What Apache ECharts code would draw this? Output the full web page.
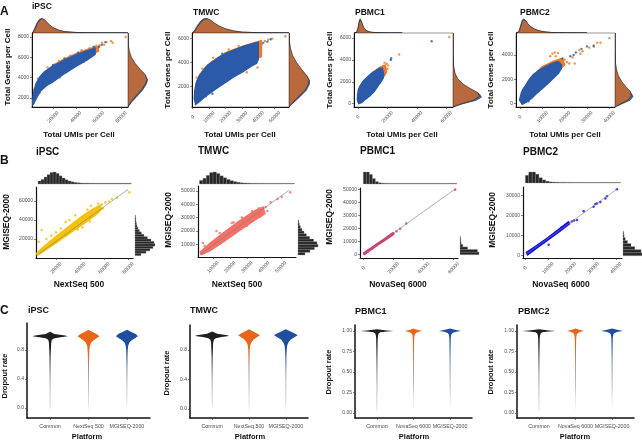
<!DOCTYPE html>
<html><head><meta charset="utf-8">
<script src="https://cdn.jsdelivr.net/npm/echarts@6/dist/echarts.min.js"></script>
<style>html,body{margin:0;padding:0;background:#fff}#c{width:642px;height:442px}</style>
</head><body><div id="c"></div>
<script>
// ---------------- DATA ----------------
// Row A : Total UMIs vs Total Genes per cell (orange = NextSeq/NovaSeq, blue = MGISEQ)
const a1BlueUpper=[[1800,1600],[2500,2300],[3500,2900],[5000,3450],[8000,4050],[12000,4550],[20000,5150],[30000,5750],[40000,6250],[50000,6650],[57000,6900]];
const a1BlueLower=[[2200,1350],[4000,1700],[6000,2150],[9000,2700],[14000,3200],[20000,3600],[30000,4400],[40000,5100],[50000,5750],[57000,6300]];
const a1OrangeUpper=[[3000,2600],[10000,4200],[20000,5250],[30000,5850],[40000,6380],[50000,6800],[60000,7100]];
const a1OrangeLower=[[3000,2000],[20000,4000],[40000,5400],[60000,6600]];
const a1OrangePts=[[3200,2800],[6500,3900],[15000,5000],[25000,5650],[35000,6150],[45000,6700],[52000,6900],[55000,7000],[58000,7150],[61000,7200],[63000,7450],[65000,7250],[67000,7500],[71000,7600],[72500,7450],[84000,8000],[26000,4000],[47000,5550],[2600,1500],[8000,2500]];
const a1BluePts=[[56000,7050],[60500,7050],[63000,7250],[66000,7500],[42000,6450],[30000,5900],[20000,5250],[12000,3100]];
const a1TopOrange=[[1300,0],[2500,0.08],[4000,0.3],[6000,0.65],[8000,0.9],[10000,1.0],[12000,0.95],[14000,0.8],[17000,0.55],[20000,0.38],[25000,0.2],[30000,0.1],[40000,0.04],[50000,0.015],[60000,0.006],[86000,0]];
const a1TopBlue=[[1300,0],[2500,0.12],[4000,0.4],[6000,0.75],[8000,0.97],[10000,1.02],[12000,0.93],[14000,0.76],[17000,0.52],[20000,0.35],[25000,0.18],[30000,0.09],[40000,0.035],[50000,0.012],[60000,0.004],[86000,0]];
const a1RightOrange=[[1100,0],[1600,0.15],[2200,0.42],[2800,0.7],[3400,0.92],[3800,1.0],[4300,0.9],[4800,0.65],[5400,0.38],[6000,0.18],[6600,0.07],[7200,0.02],[8400,0]];
const a1RightBlue=[[1100,0],[1600,0.2],[2200,0.5],[2800,0.78],[3400,0.97],[3800,1.03],[4300,0.88],[4800,0.6],[5400,0.33],[6000,0.14],[6600,0.05],[7200,0.015],[8400,0]];

const a2BlueUpper=[[1000,1000],[1300,1600],[2200,2300],[4000,2900],[6300,3300],[9000,3750],[12400,4100],[16000,4450],[20500,4800],[25000,5050],[30700,5350],[36000,5550],[40000,5700]];
const a2BlueLower=[[1800,500],[4000,750],[7000,1100],[10400,1450],[15000,1900],[20500,2400],[25000,2800],[30700,3250],[35000,3650],[39000,3950],[40000,4300]];
const a2OrangeUpper=[[1200,1700],[2500,2450],[4500,3050],[7000,3500],[10000,3900],[14000,4300],[20000,4850],[26000,5150],[32000,5450],[38000,5700],[42000,5850]];
const a2OrangeLower=[[2500,1500],[10000,2200],[20000,3200],[30000,3900],[42000,4500]];
const a2OrangePts=[[44000,5800],[46000,5900],[48500,6000],[56500,6200],[40500,5350],[39500,3600],[36000,4600],[33000,3200],[22000,5100],[12500,4400],[6000,3500],[2500,2750],[28000,5400],[42000,5500],[9000,1350],[3000,700]];
const a2BluePts=[[45500,5750],[47500,5950],[43000,5650],[12000,1400],[38000,4000],[18000,4750],[8000,1200]];
const a2TopOrange=[[-400,0],[1000,0.1],[3000,0.45],[5000,0.75],[7000,0.95],[9000,1.0],[11000,0.9],[13000,0.72],[16000,0.5],[20000,0.3],[25000,0.15],[30000,0.07],[40000,0.02],[58700,0]];
const a2TopBlue=[[-400,0],[1000,0.15],[3000,0.55],[5000,0.85],[7000,1.02],[9000,1.0],[11000,0.86],[13000,0.68],[16000,0.46],[20000,0.27],[25000,0.13],[30000,0.06],[40000,0.015],[58700,0]];
const a2RightOrange=[[300,0],[700,0.2],[1200,0.5],[1700,0.8],[2200,0.97],[2500,1.0],[2900,0.9],[3400,0.65],[4000,0.38],[4600,0.18],[5200,0.07],[5800,0.02],[6470,0]];
const a2RightBlue=[[300,0],[700,0.25],[1200,0.58],[1700,0.87],[2200,1.02],[2500,1.03],[2900,0.88],[3400,0.6],[4000,0.33],[4600,0.14],[5200,0.05],[5800,0.015],[6470,0]];

const a3BlueUpper=[[-400,300],[-300,800],[300,1300],[1500,1650],[3500,2050],[6000,2400],[9000,2750],[12000,3000],[15000,3200],[16500,3250]];
const a3BlueLower=[[500,0],[2500,100],[5000,400],[8000,700],[11000,1100],[13500,1600],[15500,2000],[17000,2300],[17500,2700]];
const a3OrangeUpper=[[0,900],[5000,2100],[10000,2900],[15000,3300],[18500,3550]];
const a3OrangeLower=[[2000,600],[10000,1300],[16000,2100],[19500,2900]];
const a3OrangePts=[[17000,3450],[18000,3750],[19500,3650],[20500,3500],[28000,4500],[62000,6100],[18500,2800],[16500,2450],[15500,3350],[20000,3200]];
const a3BluePts=[[22500,4150],[22300,4000],[50000,5700],[14500,3250],[16000,2700],[13000,3100]];
const a3TopBlue=[[-2700,0],[-1000,0.05],[0,0.35],[800,0.85],[1500,1.0],[2200,0.85],[3000,0.55],[4000,0.32],[5500,0.17],[7500,0.08],[10000,0.04],[14000,0.015],[20000,0.004],[30000,0]];
const a3TopOrange=[[-2700,0],[-1000,0.04],[0,0.28],[800,0.75],[1600,0.93],[2400,0.82],[3200,0.56],[4200,0.34],[5500,0.19],[7500,0.09],[10000,0.045],[14000,0.018],[20000,0.005],[30000,0]];
const a3RightBlue=[[-300,0],[0,0.35],[300,0.8],[600,1.0],[900,0.92],[1300,0.62],[1700,0.35],[2200,0.15],[2700,0.06],[3300,0.02],[4500,0.004],[6460,0]];
const a3RightOrange=[[-300,0],[0,0.3],[300,0.7],[650,0.92],[1000,0.88],[1400,0.6],[1800,0.35],[2300,0.16],[2800,0.07],[3400,0.025],[4500,0.006],[6460,0]];

const a4BlueUpper=[[-200,300],[300,700],[1200,1150],[2300,1450],[4000,1950],[6000,2400],[9000,2800],[12000,3100],[15000,3350],[17000,3450]];
const a4BlueLower=[[1000,-50],[3000,150],[5500,500],[7500,850],[10000,1250],[12700,1700],[15000,2100],[17200,2500],[18500,2900],[18500,3200]];
const a4OrangeUpper=[[500,900],[5000,2200],[10000,3050],[15000,3500],[19000,3750]];
const a4OrangeLower=[[3000,700],[10000,1600],[17000,2600],[20000,3200]];
const a4OrangePts=[[13500,3900],[14500,4100],[15500,4200],[17000,4150],[20000,3600],[21000,3400],[22000,3300],[24500,3300],[31000,4600],[33000,4800],[34500,5000],[36000,5000],[40000,5400],[26500,4400],[28000,4300],[3000,300],[27000,4100],[23500,3800],[16000,3900],[18500,3550]];
const a4BluePts=[[27500,4500],[30000,4700],[33000,4700],[25000,4200],[22500,3900],[3800,200],[19000,3700],[24000,4000]];
const a4TopBlue=[[-1800,0],[-500,0.1],[300,0.55],[1000,0.9],[1600,1.0],[2400,0.88],[3300,0.66],[4500,0.45],[6000,0.3],[8000,0.17],[10500,0.08],[14000,0.03],[20000,0.008],[30000,0]];
const a4TopOrange=[[-1800,0],[-500,0.08],[300,0.45],[1000,0.8],[1700,0.92],[2600,0.85],[3500,0.66],[4700,0.46],[6200,0.31],[8200,0.18],[10800,0.09],[14500,0.035],[20000,0.01],[30000,0]];
const a4RightBlue=[[-270,0],[0,0.4],[300,0.85],[600,1.0],[900,0.88],[1300,0.6],[1700,0.36],[2200,0.17],[2700,0.07],[3300,0.02],[4500,0.004],[5800,0]];
const a4RightOrange=[[-270,0],[0,0.32],[300,0.72],[650,0.9],[1000,0.85],[1400,0.6],[1800,0.38],[2300,0.19],[2800,0.08],[3400,0.025],[4500,0.005],[5800,0]];

const aXTicks1=[20000,40000,60000,80000], aYTicks1=[2000,4000,6000,8000];
const aXTicks2=[0,10000,20000,30000,40000,50000], aYTicks2=[2000,4000,6000];
const aXTicks3=[0,20000,40000,60000], aYTicks3=[0,2000,4000,6000];
const aXTicks4=[0,10000,20000,30000,40000], aYTicks4=[0,2000,4000];

// Row B : per-cell UMIs, platform vs MGISEQ-2000
const b1Upper=[[4000,5000],[8000,9800],[15000,17500],[25000,27500],[35000,37500],[45000,47000],[52000,52500],[57000,55500]];
const b1Lower=[[4500,3000],[10000,7500],[20000,16000],[30000,25000],[40000,33500],[50000,42500],[55000,47500],[57500,51000]];
const b1Pts=[[8000,29500],[5500,17000],[12000,20000],[28000,38000],[31000,40000],[36000,45000],[46000,51000],[49000,55000],[55000,57000],[58000,56500],[61000,58500],[64000,59500],[66500,62000],[70500,63500],[81000,69000],[48000,38500],[42000,32000],[59000,52000],[20000,27000],[16000,23500],[38000,30000],[24000,31000]];
const b1Line=[[5400,4200],[80000,72300]];
const b1TopBins=[[5000,0.25],[7500,0.38],[10000,0.58],[12500,0.78],[15000,0.96],[17500,1.0],[20000,0.88],[22500,0.68],[25000,0.5],[27500,0.35],[30000,0.25],[32500,0.18],[35000,0.13],[37500,0.1],[40000,0.08],[42500,0.07],[45000,0.07],[47500,0.065],[50000,0.065],[52500,0.06],[55000,0.06],[57500,0.06],[60000,0.06],[62500,0.06],[65000,0.06],[67500,0.06],[70000,0.06],[72500,0.06],[75000,0.06],[77500,0.06],[80000,0.06]];
const b1RightBins=[[2500,0.3],[5000,0.55],[7500,0.75],[10000,0.9],[12500,1.0],[15000,0.95],[17500,0.8],[20000,0.62],[22500,0.45],[25000,0.32],[27500,0.22],[30000,0.15],[32500,0.1],[35000,0.07],[37500,0.05],[40000,0.04],[42500,0.03]];

const b2Upper=[[2500,4200],[8000,10500],[15000,17500],[25000,27000],[35000,35500],[39500,38000]];
const b2Lower=[[3000,2200],[8000,5200],[15000,11000],[25000,20000],[35000,28500],[40500,33000]];
const b2Pts=[[4000,11000],[5000,8800],[14000,18500],[12000,20000],[22000,26500],[27000,30000],[37000,37000],[41000,38000],[44000,41500],[48000,44000],[50500,45500],[55500,49000],[38000,31000],[30000,24000],[21000,26000],[33000,35000],[42000,35000]];
const b2Line=[[3100,3000],[54700,50500]];
const b2TopBins=[[2000,0.3],[4000,0.48],[6000,0.72],[8000,0.95],[10000,1.0],[12000,0.88],[14000,0.68],[16000,0.52],[18000,0.38],[20000,0.28],[22000,0.2],[24000,0.14],[26000,0.1],[28000,0.08],[30000,0.07],[32000,0.06],[34000,0.06],[36000,0.055],[38000,0.055],[40000,0.05],[42000,0.05],[44000,0.05],[46000,0.05],[48000,0.05],[50000,0.05],[52000,0.05],[54000,0.05],[56000,0.05]];
const b2RightBins=[[2000,0.35],[4000,0.6],[6000,0.82],[8000,1.0],[10000,0.95],[12000,0.78],[14000,0.58],[16000,0.42],[18000,0.3],[20000,0.2],[22000,0.12],[24000,0.07],[26000,0.04]];

const b3Upper=[[300,1300],[5000,5000],[10000,9000],[15000,13000],[19500,16700]];
const b3Lower=[[800,300],[5000,3800],[10000,7700],[15000,11700],[20000,15600]];
const b3Pts=[[1000,900],[3000,2700],[6000,5000],[9000,7500],[12000,10000],[14500,12000],[17000,14200],[19000,15800],[20000,16300],[24500,20000],[28500,24000],[61000,50000],[18000,15000],[16000,13500],[22000,18000]];
const b3Line=[[0,0],[60700,50250]];
const b3TopBins=[[0,1.0],[2000,1.0],[4000,0.8],[6000,0.45],[8000,0.2],[10000,0.1],[12000,0.07],[14000,0.06],[16000,0.055],[18000,0.05],[20000,0.05],[22000,0.05],[24000,0.05],[26000,0.05],[28000,0.05],[30000,0.05],[32000,0.05],[34000,0.05],[36000,0.05],[38000,0.05],[40000,0.05],[42000,0.05],[44000,0.05],[46000,0.05],[48000,0.05],[50000,0.05],[52000,0.05],[54000,0.05],[56000,0.05],[58000,0.05],[60000,0.05]];
const b3RightBins=[[0,1.0],[2000,0.92],[4000,0.4],[6000,0.15],[8000,0.06],[10000,0.04],[12000,0.03]];

const b4Upper=[[500,1600],[5000,5000],[10000,9000],[15000,13300],[19000,16800]];
const b4Lower=[[1000,500],[5000,3800],[10000,7900],[15000,12000],[19500,15800]];
const b4Pts=[[10300,5400],[22800,17700],[25700,22100],[30100,24300],[30900,25600],[31600,25900],[33100,26600],[35300,28400],[36000,29500],[40400,33000],[20500,17000],[21500,17500],[18000,15500],[16000,14000],[12000,10000],[8000,6500],[3000,2500]];
const b4Line=[[0,490],[40700,33280]];
const b4TopBins=[[0,0.7],[1500,1.0],[3000,1.0],[4500,0.8],[6000,0.48],[7500,0.28],[9000,0.16],[10500,0.1],[12000,0.08],[13500,0.07],[15000,0.06],[16500,0.06],[18000,0.055],[19500,0.055],[21000,0.05],[22500,0.05],[24000,0.05],[25500,0.05],[27000,0.05],[28500,0.05],[30000,0.05],[31500,0.05],[33000,0.05],[34500,0.05],[36000,0.05],[37500,0.05],[39000,0.05],[40500,0.05]];
const b4RightBins=[[0,1.0],[1500,0.95],[3000,0.62],[4500,0.42],[6000,0.24],[7500,0.12],[9000,0.06],[10500,0.04]];

const bXTicks1=[20000,40000,60000,80000], bYTicks1=[20000,40000,60000];
const bXTicks2=[10000,20000,30000,40000,50000], bYTicks2=[10000,20000,30000,40000,50000];
const bXTicks3=[0,20000,40000,60000], bYTicks3=[0,10000,20000,30000,40000,50000];
const bXTicks4=[0,10000,20000,30000,40000], bYTicks4=[0,10000,20000,30000];

// Row C : dropout rate violins ([dropout, relative half width])
const cCats1=['Common','NextSeq 500','MGISEQ-2000'];
const cCats2=['Common','NovaSeq 6000','MGISEQ-2000'];
const c1Common=[[1.05,0],[1.02,0.25],[1.0,0.85],[0.99,1.0],[0.975,0.6],[0.96,0.25],[0.94,0.1],[0.9,0.065],[0.8,0.045],[0.7,0.035],[0.5,0.03],[0.3,0.025],[0.1,0.022],[0.02,0.025],[-0.03,0]];
const c1Plat=[[1.08,0],[1.05,0.2],[1.02,0.45],[0.99,0.62],[0.96,0.45],[0.93,0.28],[0.9,0.15],[0.86,0.08],[0.8,0.05],[0.7,0.035],[0.5,0.025],[0.3,0.02],[0.1,0.018],[-0.07,0]];
const c1Mgi=[[1.08,0],[1.05,0.22],[1.02,0.5],[0.99,0.62],[0.96,0.45],[0.93,0.25],[0.9,0.13],[0.86,0.07],[0.8,0.045],[0.7,0.035],[0.5,0.025],[0.3,0.02],[0.1,0.018],[-0.05,0]];
const c2Common=[[1.05,0],[1.02,0.3],[1.0,0.9],[0.99,1.0],[0.975,0.55],[0.96,0.22],[0.94,0.1],[0.9,0.06],[0.8,0.045],[0.7,0.035],[0.5,0.03],[0.3,0.025],[0.1,0.022],[-0.02,0]];
const c2Plat=[[1.08,0],[1.05,0.25],[1.02,0.5],[1.0,0.64],[0.97,0.45],[0.94,0.26],[0.9,0.13],[0.86,0.07],[0.8,0.045],[0.7,0.035],[0.5,0.025],[0.3,0.02],[0.1,0.018],[-0.06,0]];
const c2Mgi=[[1.08,0],[1.05,0.28],[1.02,0.55],[1.0,0.7],[0.97,0.48],[0.94,0.27],[0.9,0.14],[0.86,0.08],[0.8,0.05],[0.7,0.035],[0.5,0.025],[0.3,0.02],[0.1,0.018],[-0.06,0]];
const c3Common=[[1.02,0],[1.005,0.6],[1.0,1.0],[0.995,0.6],[0.985,0.2],[0.97,0.1],[0.94,0.06],[0.9,0.045],[0.8,0.035],[0.6,0.03],[0.3,0.025],[0.05,0.022],[0.0,0]];
const c3Plat=[[1.03,0],[1.015,0.2],[1.0,0.52],[0.99,0.3],[0.975,0.15],[0.96,0.08],[0.93,0.05],[0.9,0.04],[0.8,0.03],[0.6,0.025],[0.3,0.02],[0.0,0]];
const c3Mgi=[[1.03,0],[1.015,0.3],[1.0,0.66],[0.99,0.35],[0.975,0.15],[0.96,0.08],[0.93,0.05],[0.9,0.04],[0.8,0.03],[0.6,0.025],[0.3,0.02],[-0.005,0]];
const c4Common=[[1.02,0],[1.005,0.6],[1.0,1.0],[0.995,0.6],[0.985,0.2],[0.97,0.1],[0.94,0.06],[0.9,0.045],[0.8,0.035],[0.6,0.03],[0.3,0.025],[0.05,0.022],[0.0,0]];
const c4Plat=[[1.03,0],[1.015,0.22],[1.0,0.52],[0.99,0.3],[0.975,0.15],[0.96,0.08],[0.93,0.05],[0.9,0.04],[0.8,0.03],[0.6,0.025],[0.3,0.02],[0.0,0]];
const c4Mgi=[[1.03,0],[1.015,0.3],[1.0,0.66],[0.99,0.35],[0.975,0.15],[0.96,0.08],[0.93,0.05],[0.9,0.04],[0.8,0.03],[0.6,0.025],[0.3,0.02],[-0.005,0]];
const cYTicks1=[0,0.4,0.8], cYTicks2=[0,0.25,0.5,0.75,1];

// ---------------- BUILD ----------------
const FF='"Liberation Sans", Arial, Helvetica, sans-serif';
const ORANGE='#EC7A26', BLUE='#2B5AA8', DENS_O='#B8693D', DENS_B='#4A6DB0';
const grids=[], xAxes=[], yAxes=[], series=[], graphics=[];
const lab={fontSize:5,color:'#4d4d4d',fontFamily:FF};

function addGrid(r, show){grids.push({left:r[0],top:r[1],width:r[2],height:r[3],show:!!show,borderColor:'#555',borderWidth:0.6,containLabel:false});return grids.length-1;}
function hidden(gi,min,max){return {type:'value',gridIndex:gi,min,max,show:false,splitLine:{show:false}};}
function visAxis(gi,min,max,ticks,isX,opt){
  opt=opt||{};
  return {type:'value',gridIndex:gi,min,max,splitLine:{show:false},
    axisLine:{show:true,onZero:false,lineStyle:{color:'#111',width:opt.lw||1}},
    axisTick:{show:true,customValues:ticks,length:2,lineStyle:{color:'#333',width:0.6}},
    axisLabel:Object.assign({customValues:ticks,margin:isX?(opt.rot?10:6):3,formatter:opt.fmt||(v=>String(v))},lab,
      isX&&opt.rot?{rotate:opt.rot,align:'center',verticalAlign:'middle'}:{},opt.labStyle||{})};
}
function polySeries(gi,pts,style,z){
  return {type:'custom',coordinateSystem:'cartesian2d',xAxisIndex:gi,yAxisIndex:gi,silent:true,clip:true,z:z||2,
    data:pts,encode:{x:0,y:1},
    renderItem:(p,api)=>p.dataIndex!==0?null:{type:'polygon',shape:{points:pts.map(q=>api.coord(q))},style}};
}
function band(upper,lower){return upper.concat(lower.slice().reverse());}
function scatter(gi,data,color,size,z){return {type:'scatter',xAxisIndex:gi,yAxisIndex:gi,data,symbolSize:size||2.4,itemStyle:{color},silent:true,z:z||3};}
function histSeries(gi,bins,bw,vertical){
  return {type:'custom',coordinateSystem:'cartesian2d',xAxisIndex:gi,yAxisIndex:gi,silent:true,
    data:bins,encode:vertical?{x:1,y:0}:{x:0,y:1},
    renderItem:(p,api)=>{const s=api.value(0),h=api.value(1);
      let p0,p1;
      if(!vertical){p0=api.coord([s,0]);p1=api.coord([s+bw,h]);}
      else{p0=api.coord([0,s]);p1=api.coord([h,s+bw]);}
      const x=Math.min(p0[0],p1[0]),y=Math.min(p0[1],p1[1]);
      return {type:'rect',shape:{x,y,width:Math.abs(p1[0]-p0[0]),height:Math.abs(p1[1]-p0[1])},style:{fill:'#262626',stroke:'#8a8a8a',lineWidth:0.35}};}};
}
function text(t,x,y,size,opt){opt=opt||{};
  graphics.push({type:'text',x,y,rotation:opt.rot||0,silent:true,z:100,
    style:{text:t,fontSize:size,fontWeight:opt.normal?'normal':'bold',fontFamily:FF,fill:'#111',align:opt.align||'left',verticalAlign:'middle'}});}

// Row A panels
const rowA=[
 {main:[32,33,96,74],top:[32,18,96,15],right:[128,33,20,74],xr:[1300,86000],yr:[1100,8400],xt:aXTicks1,yt:aYTicks1,
  bu:a1BlueUpper,bl:a1BlueLower,ou:a1OrangeUpper,ol:a1OrangeLower,op:a1OrangePts,bp:a1BluePts,to:a1TopOrange,tb:a1TopBlue,ro:a1RightOrange,rb:a1RightBlue},
 {main:[192,33,97,74],top:[192,18,97,15],right:[289,33,21,74],xr:[-400,58700],yr:[300,6470],xt:aXTicks2,yt:aYTicks2,
  bu:a2BlueUpper,bl:a2BlueLower,ou:a2OrangeUpper,ol:a2OrangeLower,op:a2OrangePts,bp:a2BluePts,to:a2TopOrange,tb:a2TopBlue,ro:a2RightOrange,rb:a2RightBlue},
 {main:[354,33,99,74],top:[354,18,99,15],right:[453,33,30,74],xr:[-2700,64500],yr:[-300,6460],xt:aXTicks3,yt:aYTicks3,
  bu:a3BlueUpper,bl:a3BlueLower,ou:a3OrangeUpper,ol:a3OrangeLower,op:a3OrangePts,bp:a3BluePts,to:a3TopOrange,tb:a3TopBlue,ro:a3RightOrange,rb:a3RightBlue},
 {main:[516,33,99,74],top:[516,18,99,15],right:[615,33,19,74],xr:[-1800,42500],yr:[-270,5800],xt:aXTicks4,yt:aYTicks4,
  bu:a4BlueUpper,bl:a4BlueLower,ou:a4OrangeUpper,ol:a4OrangeLower,op:a4OrangePts,bp:a4BluePts,to:a4TopOrange,tb:a4TopBlue,ro:a4RightOrange,rb:a4RightBlue}
];
rowA.forEach(P=>{
  const g=addGrid(P.main,true);
  xAxes.push(visAxis(g,P.xr[0],P.xr[1],P.xt,true,{rot:45}));
  yAxes.push(visAxis(g,P.yr[0],P.yr[1],P.yt,false));
  series.push(polySeries(g,band(P.ou,P.ol),{fill:ORANGE,stroke:ORANGE,lineWidth:1.2},2));
  series.push(scatter(g,P.op,ORANGE,2.4,3));
  series.push(polySeries(g,band(P.bu,P.bl),{fill:BLUE,stroke:BLUE,lineWidth:1.4},4));
  series.push(scatter(g,P.bp,BLUE,2.4,5));
  const gt=addGrid(P.top);
  xAxes.push(hidden(gt,P.xr[0],P.xr[1])); yAxes.push(hidden(gt,0,1.05));
  series.push(polySeries(gt,P.tb,{fill:DENS_B,stroke:'#1d2f55',lineWidth:0.6},2));
  series.push(polySeries(gt,P.to,{fill:DENS_O,stroke:'#222',lineWidth:0.6},3));
  const gr=addGrid(P.right);
  xAxes.push(hidden(gr,0,1.05)); yAxes.push(hidden(gr,P.yr[0],P.yr[1]));
  series.push(polySeries(gr,P.rb.map(q=>[q[1],q[0]]),{fill:DENS_B,stroke:'#1d2f55',lineWidth:0.6},2));
  series.push(polySeries(gr,P.ro.map(q=>[q[1],q[0]]),{fill:DENS_O,stroke:'#222',lineWidth:0.6},3));
});

// Row B panels
const rowB=[
 {main:[36,187,97,71],top:[36,172,97,12],right:[135,187,20,71],xr:[3300,84000],yr:[0,74700],xt:bXTicks1,yt:bYTicks1,col:'#F4C20D',
  up:b1Upper,lo:b1Lower,pts:b1Pts,line:b1Line,tb:b1TopBins,rb:b1RightBins,bw:2500},
 {main:[198,186,98,71],top:[198,172,98,12],right:[298,186,20,71],xr:[1130,58900],yr:[500,53750],xt:bXTicks2,yt:bYTicks2,col:'#F47168',
  up:b2Upper,lo:b2Lower,pts:b2Pts,line:b2Line,tb:b2TopBins,rb:b2RightBins,bw:2000},
 {main:[360,188,98,70],top:[360,172,98,12],right:[460,188,19,70],xr:[-2200,62900],yr:[-2540,51270],xt:bXTicks3,yt:bYTicks3,col:'#D93A78',
  up:b3Upper,lo:b3Lower,pts:b3Pts,line:b3Line,tb:b3TopBins,rb:b3RightBins,bw:2000},
 {main:[523,187,99,71],top:[523,172,99,11],right:[623,187,19,71],xr:[-1030,42650],yr:[-1150,34100],xt:bXTicks4,yt:bYTicks4,col:'#1414E6',
  up:b4Upper,lo:b4Lower,pts:b4Pts,line:b4Line,tb:b4TopBins,rb:b4RightBins,bw:1500}
];
rowB.forEach(P=>{
  const g=addGrid(P.main,false);
  xAxes.push(visAxis(g,P.xr[0],P.xr[1],P.xt,true,{rot:45,lw:1.2}));
  yAxes.push(visAxis(g,P.yr[0],P.yr[1],P.yt,false,{lw:1.2}));
  series.push(polySeries(g,band(P.up,P.lo),{fill:P.col,stroke:P.col,lineWidth:1.6},2));
  series.push(scatter(g,P.pts,P.col,2.6,3));
  series.push({type:'line',xAxisIndex:g,yAxisIndex:g,data:P.line,symbol:'none',silent:true,z:6,lineStyle:{color:'#7a7a7a',width:0.6}});
  const gt=addGrid(P.top);
  xAxes.push(hidden(gt,P.xr[0],P.xr[1])); yAxes.push(hidden(gt,0,1));
  series.push(histSeries(gt,P.tb,P.bw,false));
  const gr=addGrid(P.right);
  xAxes.push(hidden(gr,0,1)); yAxes.push(hidden(gr,P.yr[0],P.yr[1]));
  series.push(histSeries(gr,P.rb,P.bw,true));
});

// Row C panels
const rowC=[
 {r:[27,323,123,95],yr:[-0.138,1.172],yt:cYTicks1,cats:cCats1,v:[c1Common,c1Plat,c1Mgi],fmt:v=>v.toFixed(1)},
 {r:[190,325,118,93],yr:[-0.122,1.139],yt:cYTicks1,cats:cCats1,v:[c2Common,c2Plat,c2Mgi],fmt:v=>v.toFixed(1)},
 {r:[355,325,117,93],yr:[-0.061,1.073],yt:cYTicks2,cats:cCats2,v:[c3Common,c3Plat,c3Mgi],fmt:v=>v.toFixed(2)},
 {r:[517,325,117,93],yr:[-0.061,1.073],yt:cYTicks2,cats:cCats2,v:[c4Common,c4Plat,c4Mgi],fmt:v=>v.toFixed(2)}
];
const vCols=['#1e1e1e','#E8661C','#1D4F9E'];
rowC.forEach(P=>{
  const g=addGrid(P.r,false);
  const cats=P.cats;
  xAxes.push(visAxis(g,-0.6,2.6,[0,1,2],true,{lw:1.5,fmt:v=>cats[Math.round(v)],labStyle:{fontSize:5.3,margin:6}}));
  yAxes.push(visAxis(g,P.yr[0],P.yr[1],P.yt,false,{lw:1.5,fmt:P.fmt}));
  P.v.forEach((prof,ci)=>{
    const col=vCols[ci];
    series.push({type:'custom',coordinateSystem:'cartesian2d',xAxisIndex:g,yAxisIndex:g,silent:true,z:3,
      data:prof.map(q=>[ci,q[0]]),encode:{x:0,y:1},
      renderItem:(p,api)=>{
        if(p.dataIndex!==0)return null;
        const right=prof.map(q=>api.coord([ci+q[1]*0.46,q[0]]));
        const left=prof.slice().reverse().map(q=>api.coord([ci-q[1]*0.46,q[0]]));
        return {type:'polygon',shape:{points:right.concat(left)},
          style:{fill:new echarts.graphic.LinearGradient(0,0,0,1,[{offset:0,color:col},{offset:0.22,color:col},{offset:0.6,color:'rgba(120,120,120,0.75)'},{offset:1,color:'rgba(190,190,190,0.6)'}]),stroke:null}};
      }});
  });
});

// Texts
text('A',0,12,12); text('B',0,161,12); text('C',0,311,12);
[['iPSC',32,7],['TMWC',193,13],['PBMC1',355,13],['PBMC2',520,13]].forEach(t=>text(t[0],t[1],t[2],8.5));
[['iPSC',36,152],['TMWC',198,151],['PBMC1',360,151],['PBMC2',523,152]].forEach(t=>text(t[0],t[1],t[2],10));
[['iPSC',28,311],['TMWC',190,311],['PBMC1',355,312],['PBMC2',518,312]].forEach(t=>text(t[0],t[1],t[2],9));
[[7.5,67],[168,70],[330,70],[491,70]].forEach(p=>text('Total Genes per Cell',p[0],p[1],8,{rot:Math.PI/2,align:'center'}));
[[79,134.5],[240,134.5],[402,134.5],[565,134.5]].forEach(p=>text('Total UMIs per Cell',p[0],p[1],8,{align:'center'}));
[[6.5,222],[168.5,220],[330,217],[493,220]].forEach(p=>text('MGISEQ-2000',p[0],p[1],8.5,{rot:Math.PI/2,align:'center'}));
[['NextSeq 500',79],['NextSeq 500',237],['NovaSeq 6000',398],['NovaSeq 6000',561]].forEach(p=>text(p[0],p[1],285,8.5,{align:'center'}));
[[5,376],[167,373],[329,372],[491,372]].forEach(p=>text('Dropout rate',p[0],p[1],7.5,{rot:Math.PI/2,align:'center'}));
[87,250,414,575].forEach(x=>text('Platform',x,437,7.5,{align:'center'}));

const chart=echarts.init(document.getElementById('c'),null,{renderer:'canvas'});
chart.setOption({animation:false,backgroundColor:'#fff',grid:grids,xAxis:xAxes,yAxis:yAxes,series,graphic:graphics});
</script></body></html>
